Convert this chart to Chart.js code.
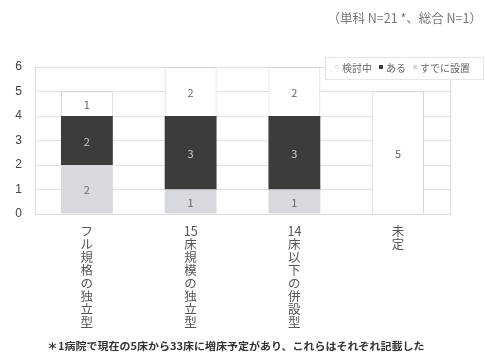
<!DOCTYPE html>
<html lang="ja">
<head>
<meta charset="utf-8">
<script src="https://cdn.jsdelivr.net/npm/chart.js@4/dist/chart.umd.min.js"></script>
<style>
  html, body { margin: 0; padding: 0; background: #fff; }
  #wrap { position: relative; width: 485px; height: 355px; font-family: "Noto Sans CJK JP", sans-serif; }
  #chart { position: absolute; left: 0; top: 0; }
  .note-top { position: absolute; right: 3px; top: 8px; font-size: 12.5px; color: #777; white-space: nowrap; }
  .note-bottom { position: absolute; left: 47px; top: 338px; font-size: 10px; color: #333; font-weight: bold; white-space: nowrap; transform: scaleX(1.1); transform-origin: left top; }
</style>
</head>
<body>
<div id="wrap">
  <canvas id="chart" width="485" height="355"></canvas>
  <div class="note-top">（単科 N=21 *、総合 N=1）</div>
  <div class="note-bottom">＊1病院で現在の5床から33床に増床予定があり、これらはそれぞれ記載した</div>
</div>
<script>
// categories (drawn as vertical text, digits kept together)
const categories = ['フル規格の独立型', '15床規模の独立型', '14床以下の併設型', '未定'];
const yTicks = [0, 1, 2, 3, 4, 5, 6];

// series, bottom to top
const installed = [2, 1, 1, 0];    // すでに設置
const existing = [2, 3, 3, 0];     // ある
const considering = [1, 2, 2, 5];  // 検討中

const FONT = '"Noto Sans CJK JP", sans-serif';

function verticalLines(text) {
    return text.match(/[0-9]+|./g);
}

// numbers inside each segment
const segmentLabels = {
    id: 'segmentLabels',
    afterDatasetsDraw(chart) {
        const ctx = chart.ctx;
        ctx.save();
        ctx.font = '11px ' + FONT;
        ctx.textAlign = 'center';
        ctx.textBaseline = 'middle';
        chart.data.datasets.forEach((ds, i) => {
            const meta = chart.getDatasetMeta(i);
            meta.data.forEach((bar, j) => {
                const v = ds.data[j];
                if (!v) return;
                ctx.fillStyle = ds.labelColor;
                ctx.fillText(String(v), bar.x, (bar.y + bar.base) / 2 + 1);
            });
        });
        ctx.restore();
    }
};

// right frame line + legend box at upper right
const frameAndLegend = {
    id: 'frameAndLegend',
    afterDraw(chart) {
        const ctx = chart.ctx;
        const a = chart.chartArea;
        ctx.save();
        ctx.strokeStyle = '#dcdcdc';
        ctx.lineWidth = 1;
        ctx.beginPath();
        ctx.moveTo(Math.round(a.right) + 0.5, a.top);
        ctx.lineTo(Math.round(a.right) + 0.5, a.bottom);
        ctx.stroke();

        ctx.fillStyle = '#fff';
        ctx.fillRect(325, 57, 158, 22);
        ctx.strokeStyle = '#e6e6e6';
        ctx.strokeRect(325.5, 57.5, 158, 22);

        ctx.font = '10px ' + FONT;
        ctx.textBaseline = 'middle';
        let x = 335;
        const y = 68;
        [...chart.data.datasets].reverse().forEach(ds => {
            ctx.fillStyle = ds.backgroundColor;
            ctx.fillRect(x, y - 3, 4, 4);
            if (ds.backgroundColor === '#ffffff') {
                ctx.strokeStyle = '#e8e8e8';
                ctx.strokeRect(x + 0.5, y - 2.5, 3, 3);
            }
            x += 7;
            ctx.fillStyle = '#666';
            ctx.fillText(ds.label, x, y);
            x += ctx.measureText(ds.label).width + 7;
        });
        ctx.restore();
    }
};

new Chart(document.getElementById('chart'), {
    type: 'bar',
    data: {
        labels: categories.map(verticalLines),
        datasets: [
            { label: 'すでに設置', data: installed, backgroundColor: '#d6dade', labelColor: '#666', borderWidth: 0 },
            { label: 'ある', data: existing, backgroundColor: '#3b3d3a', labelColor: '#cfcfcf', borderWidth: 0 },
            { label: '検討中', data: considering, backgroundColor: '#ffffff', labelColor: '#666', borderColor: '#d4d4d4', borderWidth: 1 }
        ]
    },
    options: {
        responsive: false,
        animation: false,
        layout: { padding: { top: 67, right: 35, left: 0, bottom: 0 } },
        datasets: { bar: { categoryPercentage: 1, barPercentage: 0.5 } },
        plugins: { legend: { display: false }, tooltip: { enabled: false } },
        scales: {
            x: {
                stacked: true,
                grid: { display: false },
                border: { display: true, color: '#dcdcdc' },
                ticks: {
                    color: '#555',
                    font: { family: FONT, size: 12.5, lineHeight: 1.04 },
                    maxRotation: 0,
                    autoSkip: false,
                    padding: 3
                },
                afterFit(scale) { scale.height = 141; }
            },
            y: {
                stacked: true,
                min: yTicks[0],
                max: yTicks[yTicks.length - 1],
                afterBuildTicks(scale) { scale.ticks = yTicks.map(v => ({ value: v })); },
                grid: { color: '#e2e2e2', drawTicks: false },
                border: { display: true, color: '#dcdcdc' },
                ticks: { color: '#444', font: { family: 'Arial, Liberation Sans, sans-serif', size: 12 }, padding: 13 },
                afterFit(scale) { scale.width = 35; }
            }
        }
    },
    plugins: [segmentLabels, frameAndLegend]
});
</script>
</body>
</html>
